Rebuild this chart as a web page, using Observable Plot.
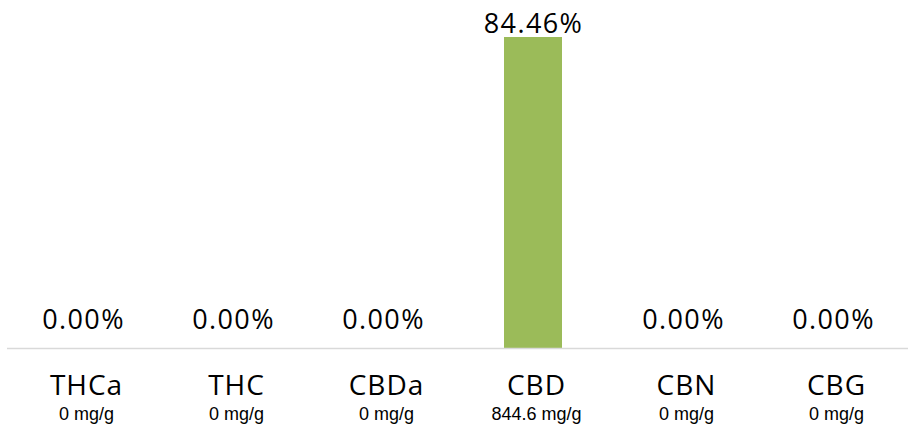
<!DOCTYPE html>
<html>
<head>
<meta charset="utf-8">
<script src="https://cdn.jsdelivr.net/npm/d3@7"></script>
<script src="https://cdn.jsdelivr.net/npm/@observablehq/plot@0.6"></script>
<style>
  html, body { margin: 0; padding: 0; background: #fff; }
</style>
</head>
<body>
<div id="chart"></div>
<script>
const categories = ["THCa", "THC", "CBDa", "CBD", "CBN", "CBG"];
const percents = [0, 0, 0, 84.46, 0, 0];
const mgPerG = [0, 0, 0, 844.6, 0, 0];

const data = categories.map((c, i) => ({ name: c, pct: percents[i], mg: mgPerG[i] }));

const chart = Plot.plot({
  width: 911,
  height: 430,
  marginLeft: 7,
  marginRight: 3,
  marginTop: 37,
  marginBottom: 82,
  style: { fontFamily: "'Open Sans', sans-serif", background: "#fff", overflow: "visible" },
  x: { domain: categories, padding: 0, axis: null },
  y: { domain: [0, d3.max(percents)], axis: null },
  marks: [
    Plot.barY(data, { x: "name", y: "pct", fill: "#9BBB59", insetLeft: 46, insetRight: 46 }),
    Plot.ruleY([0], { stroke: "#d9d9d9", strokeWidth: 1.5 }),
    Plot.text(data.filter(d => d.pct > 0), {
      x: "name", y: "pct", text: d => d.pct.toFixed(2) + "%",
      lineAnchor: "bottom", dy: -5, fontSize: 27, fill: "#000"
    }),
    Plot.text(data.filter(d => d.pct === 0), {
      x: "name", y: "pct", text: d => d.pct.toFixed(2) + "%",
      lineAnchor: "bottom", dy: -20, fontSize: 27, fill: "#000"
    }),
    Plot.text(data, {
      x: "name", y: () => 0, text: "name",
      lineAnchor: "bottom", dy: 46, dx: 3, fontSize: 28, fill: "#000"
    }),
    Plot.text(data, {
      x: "name", y: () => 0, text: d => d.mg + " mg/g",
      lineAnchor: "bottom", dy: 71, dx: 3, fontSize: 18, fill: "#000",
      fontFamily: "'Liberation Sans', Arial, sans-serif"
    })
  ]
});
d3.select(chart).selectAll("g[font-size='27']").attr("letter-spacing", "1.4px");
d3.select(chart).selectAll("g[font-size='28']").attr("letter-spacing", "1px");
document.getElementById("chart").appendChild(chart);
</script>
</body>
</html>
